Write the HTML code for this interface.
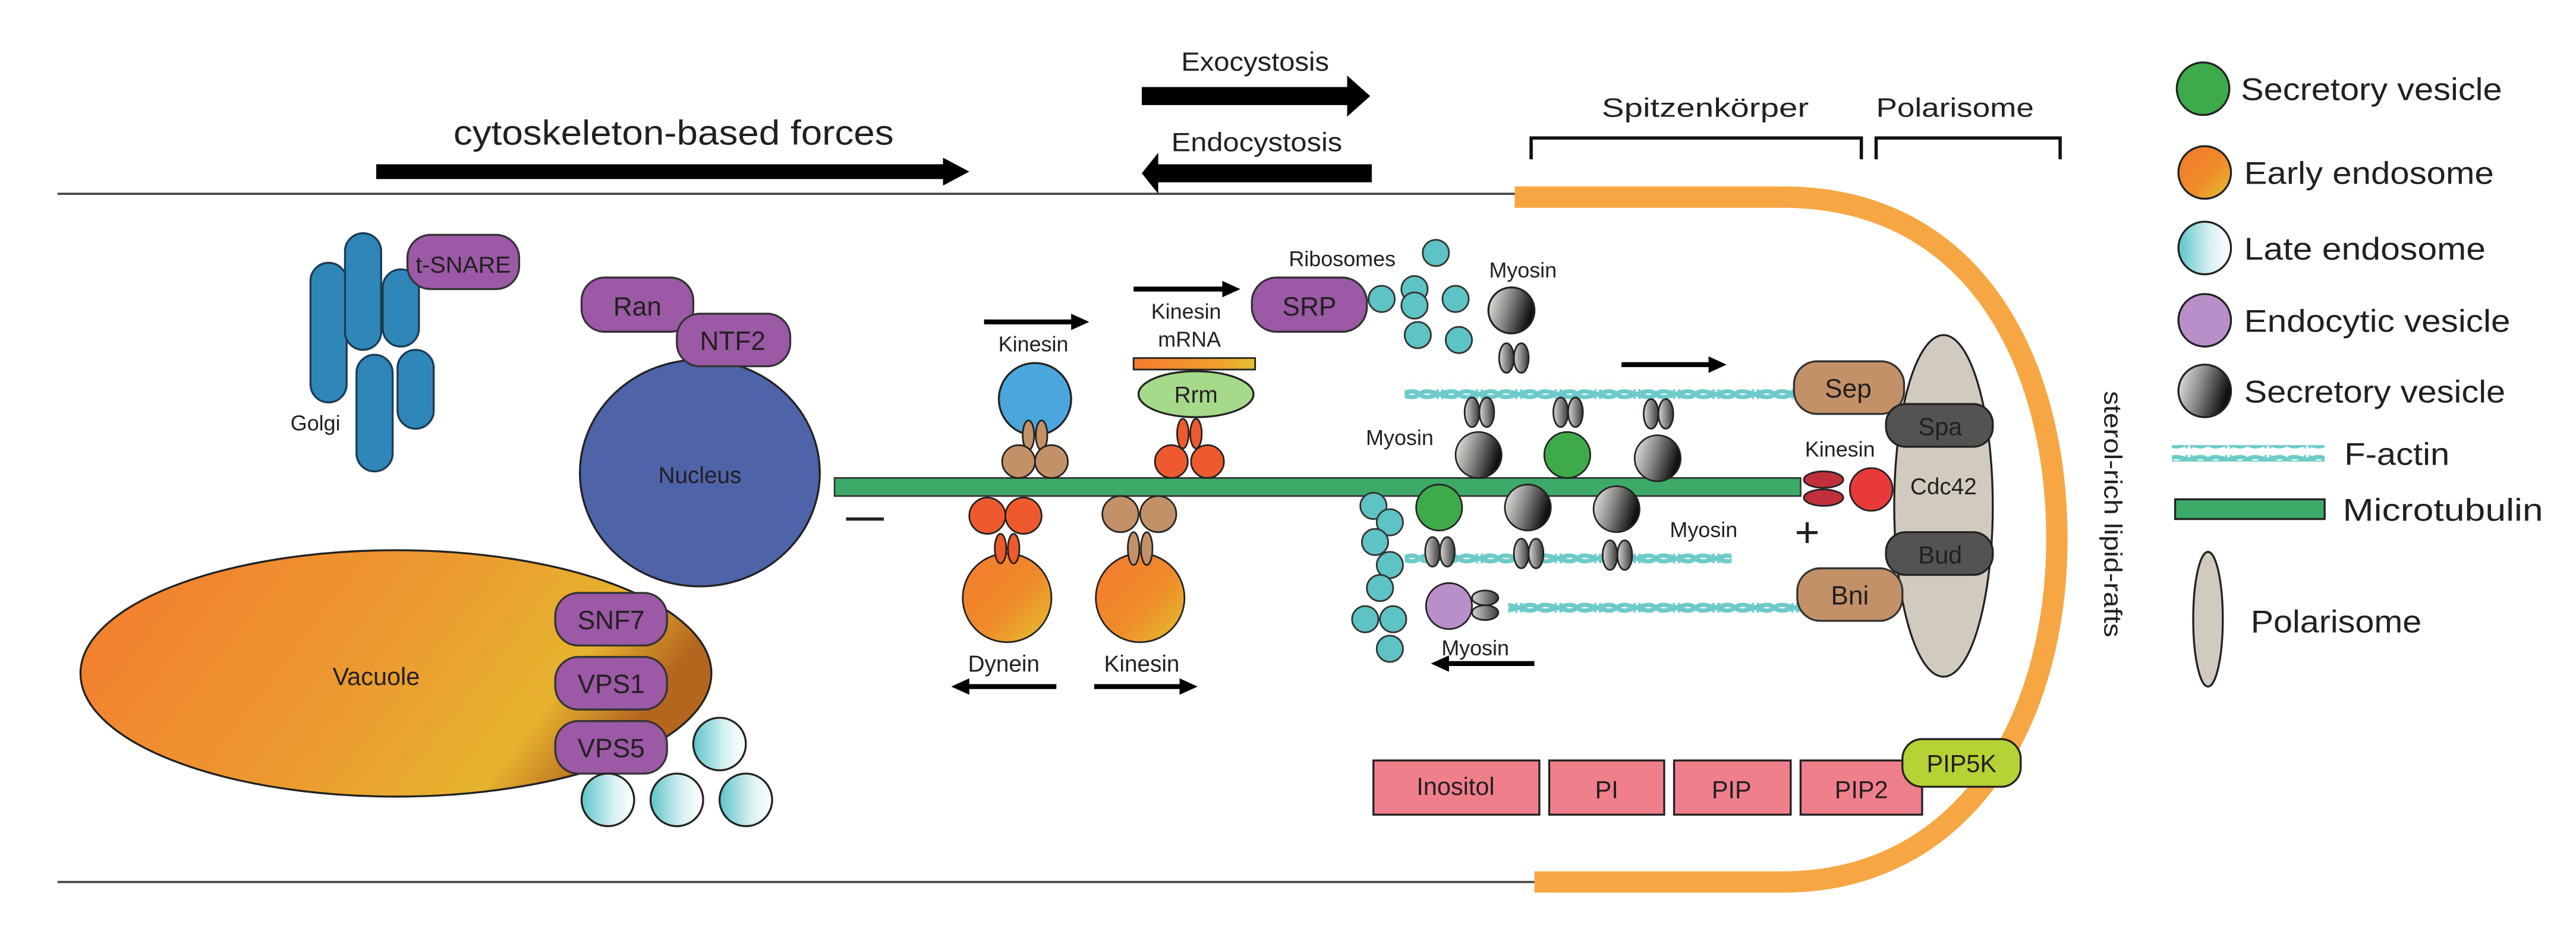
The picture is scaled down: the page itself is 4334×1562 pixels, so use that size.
<!DOCTYPE html>
<html><head><meta charset="utf-8"><style>
html,body{margin:0;padding:0;background:#fff;}
svg{display:block;}
text{font-family:"Liberation Sans",sans-serif;fill:#231f20;}
</style></head><body>
<svg width="4334" height="1562" viewBox="0 0 1568 565" preserveAspectRatio="none" xmlns="http://www.w3.org/2000/svg">
<defs>
<linearGradient id="vac" x1="0" y1="0" x2="1" y2="0.3">
<stop offset="0" stop-color="#F47A2E"/><stop offset="0.55" stop-color="#EC9A30"/><stop offset="0.85" stop-color="#E6B32E"/><stop offset="1" stop-color="#B4661E"/></linearGradient>
<linearGradient id="ee" x1="0" y1="0" x2="1" y2="1">
<stop offset="0" stop-color="#F47A2E"/><stop offset="0.55" stop-color="#F08A2A"/><stop offset="1" stop-color="#E2C22E"/></linearGradient>
<linearGradient id="le" x1="0" y1="0" x2="1" y2="0">
<stop offset="0" stop-color="#5CC5C8"/><stop offset="0.6" stop-color="#D8F0F2"/><stop offset="1" stop-color="#FFFFFF"/></linearGradient>
<linearGradient id="sv" x1="0" y1="0" x2="1" y2="0.3">
<stop offset="0" stop-color="#F2F0EC"/><stop offset="0.5" stop-color="#8A8886"/><stop offset="1" stop-color="#111"/></linearGradient>
<linearGradient id="hd" x1="0" y1="0" x2="1" y2="0">
<stop offset="0" stop-color="#D8D6D2"/><stop offset="1" stop-color="#3A3A3A"/></linearGradient>
<linearGradient id="mrna" x1="0" y1="0" x2="1" y2="0">
<stop offset="0" stop-color="#F47A2E"/><stop offset="0.7" stop-color="#F0A02E"/><stop offset="1" stop-color="#E2C22E"/></linearGradient>
<pattern id="act" width="24" height="10" patternUnits="userSpaceOnUse" y="-5">
<path d="M0,5 C6,-1 18,11 24,5" fill="none" stroke="#6CCBC9" stroke-width="2.6"/>
<path d="M0,5 C6,11 18,-1 24,5" fill="none" stroke="#6CCBC9" stroke-width="2.6"/>
<path d="M8,2.5v5M11,2v6M14,2v6M17,2.5v5" stroke="#6CCBC9" stroke-width="1.3"/>
</pattern>
</defs>

<line x1="35" y1="118" x2="924" y2="118" stroke="#444" stroke-width="1.3"/>
<line x1="35" y1="537" x2="936" y2="537" stroke="#444" stroke-width="1.3"/>
<path d="M922,120 L1085,120 C1205,120 1252,225 1252,328 C1252,440 1195,537 1085,537 L934,537" fill="none" stroke="#F6A744" stroke-width="13"/>

<text x="410" y="88" font-size="21" text-anchor="middle" textLength="268" lengthAdjust="spacingAndGlyphs">cytoskeleton-based forces</text>
<path d="M229,100 H574 V96 L590,104.5 L574,113 V109 H229Z" fill="#000"/>
<text x="764" y="43" font-size="16" text-anchor="middle" textLength="90" lengthAdjust="spacingAndGlyphs">Exocystosis</text>
<path d="M695,53 H820 V46 L834,58.5 L820,71 V64 H695Z" fill="#000"/>
<text x="765" y="92" font-size="16" text-anchor="middle" textLength="104" lengthAdjust="spacingAndGlyphs">Endocystosis</text>
<path d="M835,100 H705 V93 L695,105.5 L705,118 V111 H835Z" fill="#000"/>
<text x="1038" y="71" font-size="16" text-anchor="middle" textLength="126" lengthAdjust="spacingAndGlyphs">Spitzenkörper</text>
<text x="1190" y="71" font-size="16" text-anchor="middle" textLength="96" lengthAdjust="spacingAndGlyphs">Polarisome</text>
<path d="M932,97 V84 H1133 V97 M1142,97 V84 H1254 V97" fill="none" stroke="#111" stroke-width="2"/>

<g fill="#2F86B8" stroke="#1c3b55" stroke-width="1.2">
<rect x="189" y="160" width="22" height="85" rx="11"/>
<rect x="210" y="142" width="22" height="71" rx="11"/>
<rect x="233" y="164" width="22" height="47" rx="11"/>
<rect x="217" y="216" width="22" height="71" rx="11"/>
<rect x="242" y="213" width="22" height="48" rx="11"/>
</g>
<rect x="248" y="143" width="68" height="33" rx="14" fill="#9B59A6" stroke="#333" stroke-width="1.2"/>
<text x="282" y="166" font-size="14" text-anchor="middle" textLength="58" lengthAdjust="spacingAndGlyphs">t-SNARE</text>
<text x="192" y="262" font-size="13" text-anchor="middle">Golgi</text>

<ellipse cx="426" cy="288" rx="73" ry="69" fill="#4E63A8" stroke="#222" stroke-width="1.2"/>
<text x="426" y="294" font-size="14" text-anchor="middle">Nucleus</text>
<rect x="354" y="169" width="68" height="33" rx="14" fill="#9B59A6" stroke="#333" stroke-width="1.2"/>
<text x="388" y="192" font-size="16" text-anchor="middle">Ran</text>
<rect x="412" y="191" width="69" height="32" rx="14" fill="#9B59A6" stroke="#333" stroke-width="1.2"/>
<text x="446" y="213" font-size="16" text-anchor="middle">NTF2</text>

<ellipse cx="241" cy="410" rx="192" ry="75" fill="url(#vac)" stroke="#222" stroke-width="1.2"/>
<text x="229" y="417" font-size="15" text-anchor="middle">Vacuole</text>
<g fill="#9B59A6" stroke="#333" stroke-width="1.2">
<rect x="338" y="361" width="68" height="32" rx="14"/>
<rect x="338" y="400" width="68" height="32" rx="14"/>
<rect x="338" y="439" width="68" height="32" rx="14"/>
</g>
<text x="372" y="383" font-size="16" text-anchor="middle">SNF7</text>
<text x="372" y="422" font-size="16" text-anchor="middle">VPS1</text>
<text x="372" y="461" font-size="16" text-anchor="middle">VPS5</text>
<g fill="url(#le)" stroke="#222" stroke-width="1.2">
<ellipse cx="438" cy="453" rx="16" ry="16"/>
<ellipse cx="370" cy="487" rx="16" ry="16"/>
<ellipse cx="412" cy="487" rx="16" ry="16"/>
<ellipse cx="454" cy="487" rx="16" ry="16"/>
</g>

<rect x="508" y="291" width="588" height="11" fill="#3DAA6A" stroke="#333" stroke-width="1"/>
<line x1="515" y1="316" x2="538" y2="316" stroke="#222" stroke-width="2"/>
<text x="1100" y="333" font-size="26" text-anchor="middle">+</text>

<path d="M599,196 H654" stroke="#000" stroke-width="3"/><path d="M652,191 L663,196 L652,201Z" fill="#000"/>
<text x="629" y="214" font-size="13" text-anchor="middle">Kinesin</text>
<circle cx="630" cy="243" r="22" fill="#4AA6DC" stroke="#222" stroke-width="1.2"/>
<g fill="#C39168" stroke="#222" stroke-width="1"><ellipse cx="626" cy="265" rx="3.5" ry="9"/><ellipse cx="634" cy="265" rx="3.5" ry="9"/>
<circle cx="620" cy="281" r="10"/><circle cx="640" cy="281" r="10"/></g>

<path d="M690,176 H746" stroke="#000" stroke-width="3"/><path d="M744,171 L755,176 L744,181Z" fill="#000"/>
<text x="722" y="194" font-size="13" text-anchor="middle">Kinesin</text>
<text x="724" y="211" font-size="13" text-anchor="middle">mRNA</text>
<rect x="690" y="218" width="74" height="7" fill="url(#mrna)" stroke="#222" stroke-width="1"/>
<ellipse cx="728" cy="240" rx="35" ry="14" fill="#A6D98A" stroke="#222" stroke-width="1.2"/>
<text x="728" y="245" font-size="14" text-anchor="middle">Rrm</text>
<g fill="#EE5A2E" stroke="#222" stroke-width="1"><ellipse cx="720" cy="264" rx="3.5" ry="9"/><ellipse cx="728" cy="264" rx="3.5" ry="9"/>
<circle cx="713" cy="281" r="10"/><circle cx="735" cy="281" r="10"/></g>

<g stroke="#222" stroke-width="1">
<circle cx="601" cy="314" r="11" fill="#EE5A2E"/><circle cx="623" cy="314" r="11" fill="#EE5A2E"/>
<circle cx="613" cy="364" r="27" fill="url(#ee)"/>
<ellipse cx="609" cy="334" rx="3.5" ry="9" fill="#EE5A2E"/><ellipse cx="617" cy="334" rx="3.5" ry="9" fill="#EE5A2E"/>
<circle cx="682" cy="313" r="11" fill="#C39168"/><circle cx="705" cy="313" r="11" fill="#C39168"/>
<circle cx="694" cy="364" r="27" fill="url(#ee)"/>
<ellipse cx="690" cy="334" rx="3.5" ry="10" fill="#C39168"/><ellipse cx="698" cy="334" rx="3.5" ry="10" fill="#C39168"/>
</g>
<text x="611" y="409" font-size="14" text-anchor="middle">Dynein</text>
<path d="M643,418 H588" stroke="#000" stroke-width="3"/><path d="M590,413 L579,418 L590,423Z" fill="#000"/>
<text x="695" y="409" font-size="14" text-anchor="middle">Kinesin</text>
<path d="M666,418 H720" stroke="#000" stroke-width="3"/><path d="M718,413 L729,418 L718,423Z" fill="#000"/>

<rect x="762" y="169" width="70" height="33" rx="15" fill="#9B59A6" stroke="#333" stroke-width="1.2"/>
<text x="797" y="192" font-size="16" text-anchor="middle">SRP</text>
<text x="817" y="162" font-size="13" text-anchor="middle">Ribosomes</text>
<g fill="#5EC3C4" stroke="#333" stroke-width="1">
<circle cx="874" cy="154" r="8"/><circle cx="841" cy="182" r="8"/><circle cx="861" cy="176" r="8"/><circle cx="861" cy="186" r="8"/>
<circle cx="886" cy="182" r="8"/><circle cx="863" cy="204" r="8"/><circle cx="888" cy="207" r="8"/>
<circle cx="836" cy="308" r="8"/><circle cx="846" cy="318" r="8"/><circle cx="837" cy="330" r="8"/><circle cx="846" cy="344" r="8"/>
<circle cx="840" cy="358" r="8"/><circle cx="831" cy="377" r="8"/><circle cx="848" cy="377" r="8"/><circle cx="846" cy="395" r="8"/>
</g>
<text x="927" y="169" font-size="13" text-anchor="middle">Myosin</text>
<circle cx="920" cy="189" r="14" fill="url(#sv)" stroke="#222" stroke-width="1.2"/>
<g fill="url(#hd)" stroke="#222" stroke-width="1"><ellipse cx="917" cy="218" rx="4.5" ry="9"/><ellipse cx="926" cy="218" rx="4.5" ry="9"/></g>
<path d="M987,222 H1042" stroke="#000" stroke-width="3"/><path d="M1040,217 L1051,222 L1040,227Z" fill="#000"/>

<rect x="855" y="233" width="240" height="10" fill="url(#act)"/>
<rect x="855" y="336" width="199" height="10" fill="url(#act)"/>
<rect x="918" y="364" width="180" height="10" fill="url(#act)"/>

<text x="852" y="271" font-size="13" text-anchor="middle">Myosin</text>
<g stroke="#222" stroke-width="1">
<g fill="url(#hd)"><ellipse cx="896" cy="251" rx="4.5" ry="9"/><ellipse cx="905" cy="251" rx="4.5" ry="9"/>
<ellipse cx="950" cy="251" rx="4.5" ry="9"/><ellipse cx="959" cy="251" rx="4.5" ry="9"/>
<ellipse cx="1005" cy="252" rx="4.5" ry="9"/><ellipse cx="1014" cy="252" rx="4.5" ry="9"/></g>
<circle cx="900" cy="277" r="14" fill="url(#sv)"/>
<circle cx="954" cy="277" r="14" fill="#3DAB4A"/>
<circle cx="1009" cy="279" r="14" fill="url(#sv)"/>
<circle cx="876" cy="309" r="14" fill="#3DAB4A"/>
<circle cx="930" cy="309" r="14" fill="url(#sv)"/>
<circle cx="984" cy="310" r="14" fill="url(#sv)"/>
<g fill="url(#hd)"><ellipse cx="872" cy="336" rx="4.5" ry="9"/><ellipse cx="881" cy="336" rx="4.5" ry="9"/>
<ellipse cx="926" cy="337" rx="4.5" ry="9"/><ellipse cx="935" cy="337" rx="4.5" ry="9"/>
<ellipse cx="980" cy="338" rx="4.5" ry="9"/><ellipse cx="989" cy="338" rx="4.5" ry="9"/></g>
<circle cx="882" cy="369" r="14" fill="#B98FC9"/>
<g fill="url(#hd)"><ellipse cx="904" cy="364" rx="8" ry="4.5"/><ellipse cx="904" cy="373" rx="8" ry="4.5"/></g>
</g>
<text x="1037" y="327" font-size="13" text-anchor="middle">Myosin</text>
<text x="898" y="399" font-size="13" text-anchor="middle">Myosin</text>
<path d="M934,404 H880" stroke="#000" stroke-width="3"/><path d="M882,399 L871,404 L882,409Z" fill="#000"/>

<ellipse cx="1183" cy="308" rx="30" ry="104" fill="#D0CBBE" stroke="#222" stroke-width="1.2"/>
<rect x="1092" y="220" width="67" height="32" rx="14" fill="#C39168" stroke="#333" stroke-width="1.2"/>
<text x="1125" y="242" font-size="16" text-anchor="middle">Sep</text>
<rect x="1094" y="346" width="64" height="32" rx="14" fill="#C39168" stroke="#333" stroke-width="1.2"/>
<text x="1126" y="368" font-size="16" text-anchor="middle">Bni</text>
<rect x="1148" y="246" width="65" height="26" rx="12" fill="#555352" stroke="#222" stroke-width="1.2"/>
<text x="1181" y="265" font-size="15" text-anchor="middle">Spa</text>
<rect x="1148" y="324" width="65" height="26" rx="12" fill="#555352" stroke="#222" stroke-width="1.2"/>
<text x="1181" y="343" font-size="15" text-anchor="middle">Bud</text>
<text x="1183" y="301" font-size="14" text-anchor="middle">Cdc42</text>
<text x="1120" y="278" font-size="13" text-anchor="middle">Kinesin</text>
<g stroke="#222" stroke-width="1">
<ellipse cx="1110" cy="292" rx="12" ry="5" fill="#C0303A"/><ellipse cx="1110" cy="303" rx="12" ry="5" fill="#C0303A"/>
<circle cx="1139" cy="298" r="13" fill="#E83A3A"/>
</g>

<g fill="#F07F8C" stroke="#222" stroke-width="1.2">
<rect x="836" y="463" width="101" height="33"/><rect x="943" y="463" width="70" height="33"/>
<rect x="1019" y="463" width="71" height="33"/><rect x="1096" y="463" width="74" height="33"/>
</g>
<rect x="1158" y="450" width="72" height="29" rx="12" fill="#B5D334" stroke="#222" stroke-width="1.2"/>
<text x="886" y="484" font-size="15" text-anchor="middle">Inositol</text>
<text x="978" y="486" font-size="15" text-anchor="middle">PI</text>
<text x="1054" y="486" font-size="15" text-anchor="middle">PIP</text>
<text x="1133" y="486" font-size="15" text-anchor="middle">PIP2</text>
<text x="1194" y="470" font-size="15" text-anchor="middle">PIP5K</text>

<text x="0" y="0" font-size="15" text-anchor="middle" transform="translate(1281,313) rotate(90)" textLength="150" lengthAdjust="spacingAndGlyphs">sterol-rich lipid-rafts</text>

<g stroke="#222" stroke-width="1.2">
<ellipse cx="1341" cy="54" rx="16" ry="16" fill="#3DAB4A"/>
<ellipse cx="1342" cy="105" rx="16" ry="16" fill="url(#ee)"/>
<ellipse cx="1342" cy="151" rx="16" ry="16" fill="url(#le)"/>
<ellipse cx="1342" cy="195" rx="16" ry="16" fill="#B98FC9"/>
<ellipse cx="1342" cy="238" rx="16" ry="16" fill="url(#sv)"/>
<rect x="1324" y="304" width="91" height="12" fill="#3DAA6A"/>
<ellipse cx="1344" cy="377" rx="9" ry="41" fill="#D0CBBE"/>
</g>
<rect x="1322" y="271" width="93" height="10" fill="url(#act)"/>
<g font-size="19">
<text x="1364" y="61" textLength="159" lengthAdjust="spacingAndGlyphs">Secretory vesicle</text>
<text x="1366" y="112" textLength="152" lengthAdjust="spacingAndGlyphs">Early endosome</text>
<text x="1366" y="158" textLength="147" lengthAdjust="spacingAndGlyphs">Late endosome</text>
<text x="1366" y="202" textLength="162" lengthAdjust="spacingAndGlyphs">Endocytic vesicle</text>
<text x="1366" y="245" textLength="159" lengthAdjust="spacingAndGlyphs">Secretory vesicle</text>
<text x="1427" y="283" textLength="64" lengthAdjust="spacingAndGlyphs">F-actin</text>
<text x="1426" y="317" textLength="122" lengthAdjust="spacingAndGlyphs">Microtubulin</text>
<text x="1370" y="385" textLength="104" lengthAdjust="spacingAndGlyphs">Polarisome</text>
</g>
</svg>
</body></html>
